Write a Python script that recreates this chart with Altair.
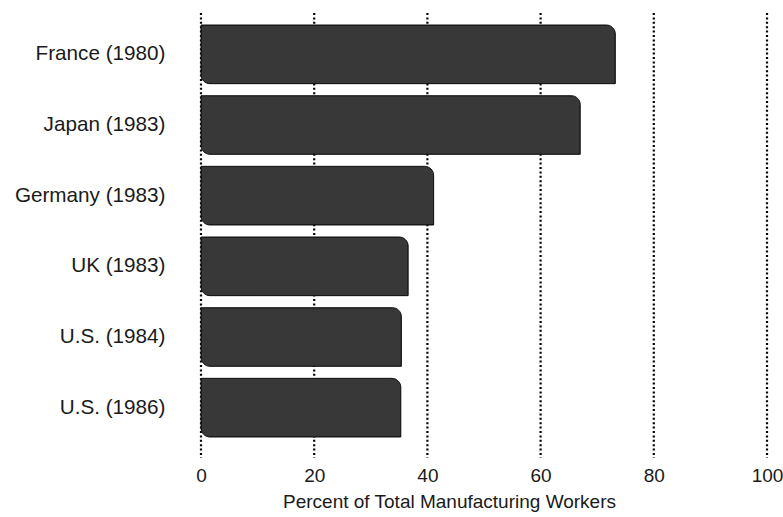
import altair as alt
import pandas as pd

countries = ["France (1980)", "Japan (1983)", "Germany (1983)", "UK (1983)", "U.S. (1984)", "U.S. (1986)"]
percents = [73.2, 67.0, 41.1, 36.6, 35.4, 35.3]
grid_ticks = [0, 20, 40, 60, 80, 100]

bars_df = pd.DataFrame({"country": countries, "pct": percents})
grid_df = pd.DataFrame({"tick": grid_ticks})

W, H = 566, 424
FONT = "Liberation Sans"

xscale = alt.Scale(domain=[0, 100], nice=False, zero=True)

grid = alt.Chart(grid_df).mark_rule(
    color="#000000", strokeWidth=2.2, strokeDash=[2, 2.4]
).encode(
    x=alt.X("tick:Q", scale=xscale),
    y=alt.value(-6),
    y2=alt.value(H + 15),
)

bars = alt.Chart(bars_df).mark_bar(
    color="#383838", stroke="#111111", strokeWidth=1,
    cornerRadiusTopRight=9, cornerRadiusBottomLeft=9,
).encode(
    x=alt.X("pct:Q", scale=xscale,
            axis=alt.Axis(values=grid_ticks, title="Percent of Total Manufacturing Workers",
                          domain=False, ticks=False, grid=False,
                          labelFontSize=19, labelFont=FONT, labelColor="#1a1a1a",
                          labelPadding=23, labelBaseline="top", labelFlush=False,
                          titleFontSize=19, titleFont=FONT, titleFontWeight="normal",
                          titleColor="#1a1a1a", titlePadding=7,
                          titleX=248, titleAlign="center")),
    y=alt.Y("country:N", sort=countries,
            scale=alt.Scale(paddingInner=0.17, paddingOuter=0.085),
            axis=alt.Axis(title=None, domain=False, ticks=False, grid=False,
                          labelFontSize=20.7, labelFont=FONT, labelColor="#1a1a1a",
                          labelPadding=36)),
)

chart = alt.layer(grid, bars).properties(
    width=W, height=H,
    autosize=alt.AutoSizeParams(type="none"),
    padding={"left": 201, "top": 19, "right": 16, "bottom": 74},
    background="white",
).configure_view(stroke=None)

chart.save("out.html", embed_options={"renderer": "svg", "actions": False})
